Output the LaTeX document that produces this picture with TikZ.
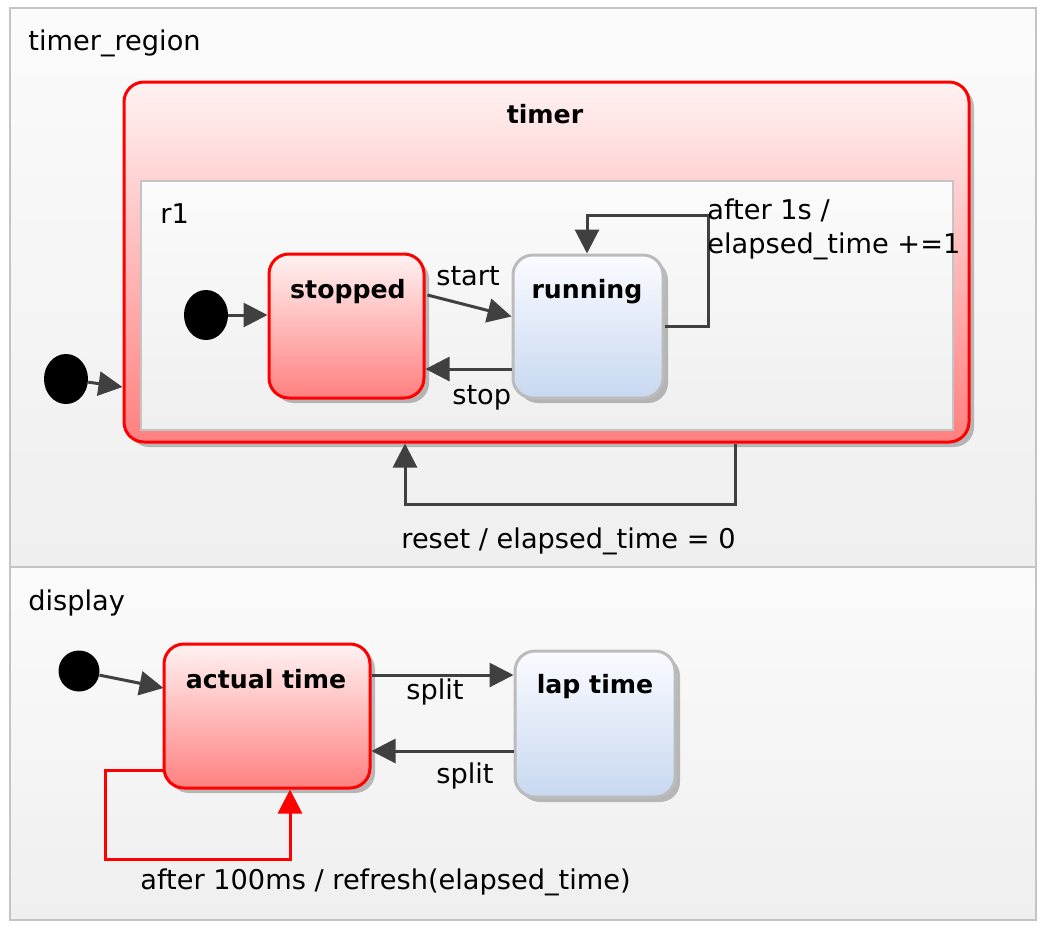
\documentclass[tikz,border=0pt]{standalone}
\usepackage{fontspec}
\setmainfont{DejaVu Sans}
\usetikzlibrary{arrows.meta,shadows,calc,shapes.geometric}
\definecolor{arrgray}{HTML}{404040}
\definecolor{regborder}{HTML}{C4C4C4}
\definecolor{regtop}{HTML}{FBFBFB}
\definecolor{regbot}{HTML}{EFEFEF}
\definecolor{redtop}{HTML}{FFF2F2}
\definecolor{redbot}{HTML}{FF8080}
\definecolor{bluetop}{HTML}{FAFBFF}
\definecolor{bluebot}{HTML}{C8D8F0}
\definecolor{blueborder}{HTML}{BBBBBB}
\begin{document}
\begin{tikzpicture}[x=0.5pt,y=-0.5pt,
  region/.style={draw=regborder, line width=1.25pt, top color=regtop, bottom color=regbot},
  shad/.style={drop shadow={shadow xshift=2.5pt, shadow yshift=-2.5pt, fill=black, opacity=0.25}},
  redstate/.style={draw=red, line width=1.5pt, rounded corners=10pt, top color=redtop, bottom color=redbot, shad, inner sep=0},
  bluestate/.style={draw=blueborder, line width=1.5pt, rounded corners=10pt, top color=bluetop, bottom color=bluebot, shad, inner sep=0},
  initdot/.style={fill=black, draw=none, ellipse, inner sep=0},
  arr/.style={draw=arrgray, line width=1.5pt, -{Triangle[length=12pt,width=12pt]}},
  redarr/.style={draw=red, line width=1.5pt, -{Triangle[length=12pt,width=12pt]}},
  lbl/.style={font=\fontsize{13.6}{16}\selectfont, inner sep=0, anchor=base west},
  ttl/.style={font=\fontsize{12.6}{15}\selectfont\bfseries, inner sep=0, anchor=base},
]
\useasboundingbox (0,0) rectangle (1046,934);
\fill[white] (0,0) rectangle (1046,934);

% regions
\path[region] (10,8) rectangle (1036,567);
\path[region] (10,567) rectangle (1036,920);
\node[lbl] (lblTR) at (28,50) {timer\_region};
\node[lbl] (lblDisp) at (28,610) {display};

% timer composite state
\node[redstate, minimum width=422.5pt, minimum height=180pt] (timer) at (546.5,262) {};
\node[ttl] (ttlTimer) at (545,123) {timer};
\path[region] (141,181) rectangle (953,430);
\node[lbl] (lblR1) at (160,223) {r1};

% states
\node[redstate, minimum width=77.5pt, minimum height=72pt] (stopped) at (346.5,326) {};
\node[ttl] (ttlStopped) at (348,298) {stopped};
\node[bluestate, minimum width=75pt, minimum height=71.5pt] (running) at (588,326.5) {};
\node[ttl] (ttlRunning) at (587,298) {running};
\node[redstate, minimum width=103pt, minimum height=72pt] (actual) at (267,716) {};
\node[ttl] (ttlActual) at (266,688) {actual time};
\node[bluestate, minimum width=80pt, minimum height=73pt] (lap) at (595,724) {};
\node[ttl] (ttlLap) at (595,693) {lap time};

% initial pseudo states
\node[initdot, minimum width=22pt, minimum height=25pt] (d0) at (66,379) {};
\node[initdot, minimum width=22pt, minimum height=25pt] (d1) at (206,315) {};
\node[initdot, minimum width=20.5pt, minimum height=20.5pt] (d2) at (79,671) {};

% transitions
\draw[arr] (d0) -- (timer.west |- 0,387);
\draw[arr] (d1) -- (stopped.west |- d1);
\draw[arr] ($(stopped.east)+(2,-31)$) -- ($(running.west)+(0,-10)$);
\node[lbl] (lStart) at (436,285) {start};
\draw[arr] ($(running.west)+(0,42.5)$) -- ($(stopped.east)+(0,43)$);
\node[lbl] (lStop) at (452,404) {stop};
\draw[arr] (running.east) -- ++(44,0) |- ($(running.north)+(-1,-38)$) -- ($(running.north)+(-1,0)$);
\node[lbl] (lAfter1) at (707,219) {after 1s /};
\node[lbl] (lAfter2) at (707,253) {elapsed\_time +=1};
\draw[arr] (timer.south -| 735,0) -- (735,504) -| (timer.south -| 405,0);
\node[lbl] (lReset) at (401,548) {reset / elapsed\_time = 0};

\draw[arr] (d2) -- ($(actual.west)+(1,-28)$);
\draw[arr] ($(actual.east)+(0,-41)$) -- ($(lap.west)+(0,-49)$);
\node[lbl] (lSplit1) at (406,699) {split};
\draw[arr] ($(lap.west)+(0,27)$) -- ($(actual.east)+(0,35)$);
\node[lbl] (lSplit2) at (436,783) {split};
\draw[redarr] ($(actual.west)+(0,54)$) -| ($(actual.south west)+(-57,70)$) -| ($(actual.south)+(23,0)$);
\node[lbl] (lRefresh) at (140,889) {after 100ms / refresh(elapsed\_time)};
\end{tikzpicture}
\end{document}
